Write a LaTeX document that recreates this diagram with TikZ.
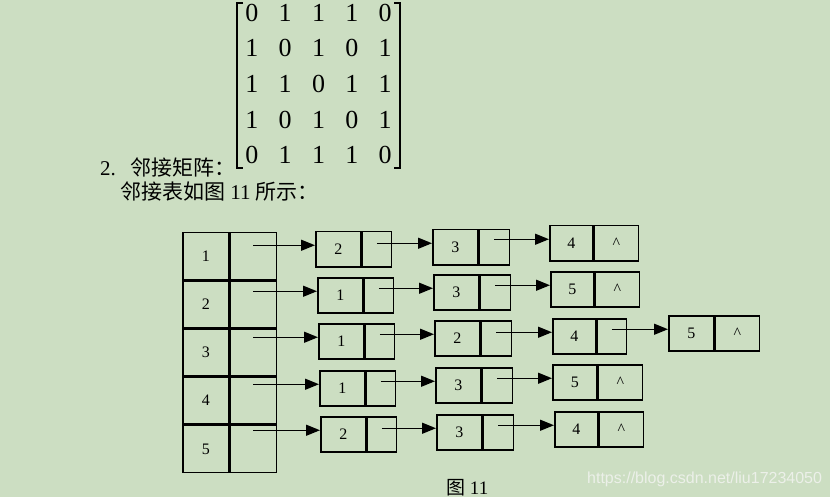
\documentclass[tikz,border=0pt]{standalone}
\usepackage{fontspec}
\setmainfont{Liberation Serif}
\newfontfamily\cjk{Noto Sans CJK SC}
\newfontfamily\wmfont{Liberation Sans}
\usetikzlibrary{calc,arrows.meta,matrix}
\definecolor{bg}{RGB}{204,222,194}
\definecolor{wm}{RGB}{236,240,233}
\tikzset{
  dcell/.style={draw, line width=1.5pt, minimum height=35pt, inner sep=0pt, anchor=north west, font=\fontsize{16}{18}\selectfont},
  hcell/.style={draw, line width=1.5pt, minimum height=46.7pt, minimum width=46pt, inner sep=0pt, anchor=north west, font=\fontsize{16}{18}\selectfont},
  arr/.style={line width=1.4pt, -{Triangle[length=14pt,width=11pt]}},
  bracket/.style={line width=1.3pt}
}
\newcommand\LN[7]{%
  \node[dcell, minimum width=#4pt] (#1) at (#2,#3) {#6};
  \node[dcell, minimum width=#5pt] (#1p) at (#1.north east) {#7};}
\newcommand\AR[2]{\draw[arr] ($(#1.center |- #2.west)+(0,-4)$) -- ($(#2.west)+(0,-4)$);}
\begin{document}
\begin{tikzpicture}[x=1pt,y=-1pt]
\useasboundingbox[fill=bg] (0,0) rectangle (830,497);
% matrix
\matrix (m) at (318.5,84) [matrix of nodes, nodes={minimum width=33.3pt, minimum height=35.5pt, inner sep=0pt, font=\fontsize{26}{30}\selectfont}] {
0 & 1 & 1 & 1 & 0\\
1 & 0 & 1 & 0 & 1\\
1 & 1 & 0 & 1 & 1\\
1 & 0 & 1 & 0 & 1\\
0 & 1 & 1 & 1 & 0\\
};
\draw[bracket] (243,3) -- (237,3) -- (237,168) -- (243,168);
\draw[bracket] (394,3) -- (400,3) -- (400,168) -- (394,168);
% texts
\node[anchor=base west, inner sep=0pt, font=\fontsize{21}{24}\selectfont] (t1) at (100,176) {2.\hspace{0.7em}{\cjk 邻接矩阵：}};
\node[anchor=base west, inner sep=0pt, font=\fontsize{21}{24}\selectfont] (t2) at (120,200) {{\cjk 邻接表如图} 11 {\cjk 所示：}};
% head table
\node[hcell] (h1) at (182,232) {1};
\node[hcell] (h1p) at (h1.north east) {};
\node[hcell] (h2) at (h1.south west) {2};
\node[hcell] (h2p) at (h2.north east) {};
\node[hcell] (h3) at (h2.south west) {3};
\node[hcell] (h3p) at (h3.north east) {};
\node[hcell] (h4) at (h3.south west) {4};
\node[hcell] (h4p) at (h4.north east) {};
\node[hcell] (h5) at (h4.south west) {5};
\node[hcell] (h5p) at (h5.north east) {};
% row 1
\LN{r1a}{315}{231}{45}{29}{2}{}
\LN{r1b}{432}{229}{45}{30}{3}{}
\LN{r1c}{549}{225}{43}{44}{4}{\textasciicircum}
% row 2
\LN{r2a}{317}{277}{45}{29}{1}{}
\LN{r2b}{433}{274}{45}{30}{3}{}
\LN{r2c}{550}{271}{43}{44}{5}{\textasciicircum}
% row 3
\LN{r3a}{318}{323}{45}{29}{1}{}
\LN{r3b}{434}{320}{45}{30}{2}{}
\LN{r3c}{552}{318}{43}{29}{4}{}
\LN{r3d}{668}{315}{45}{44}{5}{\textasciicircum}
% row 4
\LN{r4a}{319}{370}{45}{29}{1}{}
\LN{r4b}{435}{367}{45}{30}{3}{}
\LN{r4c}{552}{364}{44}{44}{5}{\textasciicircum}
% row 5
\LN{r5a}{320}{416}{45}{29}{2}{}
\LN{r5b}{436}{414}{45}{30}{3}{}
\LN{r5c}{554}{411}{43}{44}{4}{\textasciicircum}
% arrows
\AR{h1p}{r1a}\AR{r1ap}{r1b}\AR{r1bp}{r1c}
\AR{h2p}{r2a}\AR{r2ap}{r2b}\AR{r2bp}{r2c}
\AR{h3p}{r3a}\AR{r3ap}{r3b}\AR{r3bp}{r3c}\AR{r3cp}{r3d}
\AR{h4p}{r4a}\AR{r4ap}{r4b}\AR{r4bp}{r4c}
\AR{h5p}{r5a}\AR{r5ap}{r5b}\AR{r5bp}{r5c}
% caption
\node[anchor=base west, inner sep=0pt, font=\fontsize{19}{22}\selectfont] (cap) at (446,494) {{\cjk 图} 11};
% watermark
\node[anchor=base west, inner sep=0pt, text=wm, font=\wmfont\fontsize{16}{18}\selectfont] (wmk) at (587,483) {https://blog.csdn.net/liu17234050};
\end{tikzpicture}
\end{document}
